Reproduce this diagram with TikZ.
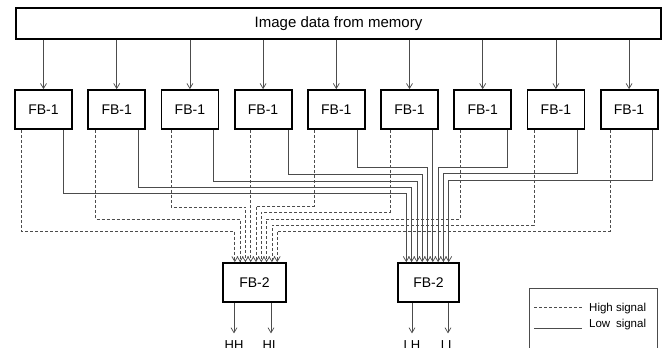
\documentclass[tikz,border=0pt]{standalone}
\usepackage{fontspec}
\setmainfont{Liberation Sans}
\usetikzlibrary{arrows.meta}

\begin{document}
\begin{tikzpicture}[x=1pt,y=-1pt,
  blk/.style={draw=black,line width=1.8pt,minimum width=57pt,minimum height=39pt,inner sep=0pt,font=\fontsize{14}{16}\selectfont},
  arr/.style={draw=black!70,line width=0.7pt,-{Straight Barb[length=5pt,width=6pt]}},
  hi/.style={arr,dash pattern=on 3pt off 2pt},
  lo/.style={arr},
  lbl/.style={anchor=base,inner sep=0pt,font=\fontsize{13}{15}\selectfont}]
\useasboundingbox (0,0) rectangle (670,348);
%\draw[step=10] (0,0) grid (670,348);
\node[draw,line width=1.2pt,minimum width=645pt,minimum height=31pt,inner sep=0pt,font=\fontsize{15}{18}\selectfont] (mem) at (338.5,23.5) {Image data from memory};
\foreach \i in {1,...,9}{
  \node[blk] (fb\i) at ({43.5+73.2*(\i-1)},109.5) {FB-1};
  \draw[arr] (fb\i.north |- mem.south) -- (fb\i.north);
}
\node[blk,minimum width=63pt] (fbL) at (254.5,282.5) {FB-2};
\node[blk,minimum width=61pt] (fbR) at (428.5,282.5) {FB-2};
% inputs of the two FB-2 blocks
\foreach \i in {1,...,9}{
  \coordinate (hin\i) at ([xshift={(\i-5)*5.3pt+1.5pt}]fbL.north);
  \coordinate (lin\i) at ([xshift={(\i-5)*5.3pt-1pt}]fbR.north);
}
\foreach \i/\dx/\hy in {1/-22/231,2/-21/219,3/-19/207,4/-12.4/200,5/-22/206,6/-19.5/212,7/-22.5/219,8/-22/225,9/-19/231}
  \draw[hi] ([xshift=\dx pt]fb\i.south) |- (hin\i |- 0,\hy) -- (hin\i);
\foreach \i/\dx/\hy in {1/19.5/193,2/21.3/187,3/23/181,4/25/174,5/21/167,6/23.3/160,7/25/167,8/21/173,9/23/180}
  \draw[lo] ([xshift=\dx pt]fb\i.south) |- (lin\i |- 0,\hy) -- (lin\i);
% outputs
\node[lbl] (hh) at (234,349.5) {HH};
\node[lbl] (hl) at (271,349.5) {HL};
\node[lbl] (lh) at (412,349.5) {LH};
\node[lbl] (ll) at (448,349.5) {LL};
\foreach \o/\b in {hh/fbL,hl/fbL,lh/fbR,ll/fbR}
  \draw[arr] (\o.north |- \b.south) -- ([yshift=7pt]\o.north);
% legend
\draw[black!70,line width=0.7pt] (529,288) rectangle (657,352);
\coordinate (hsA) at (534,307);
\coordinate (hsB) at (582,307);
\coordinate (lsA) at (534,328);
\coordinate (lsB) at (582,328);
\draw[black!70,line width=0.7pt,dash pattern=on 3pt off 2pt] (hsA) -- (hsB);
\draw[black!70,line width=0.7pt] (lsA) -- (lsB);
\node[anchor=base west,inner sep=0pt,font=\fontsize{11.5}{13}\selectfont] (hsTxt) at (589,311) {High signal};
\node[anchor=base west,inner sep=0pt,font=\fontsize{11.5}{13}\selectfont] (lsTxt) at (589,327.5) {Low\hspace{0.5em}signal};
\end{tikzpicture}
\end{document}
